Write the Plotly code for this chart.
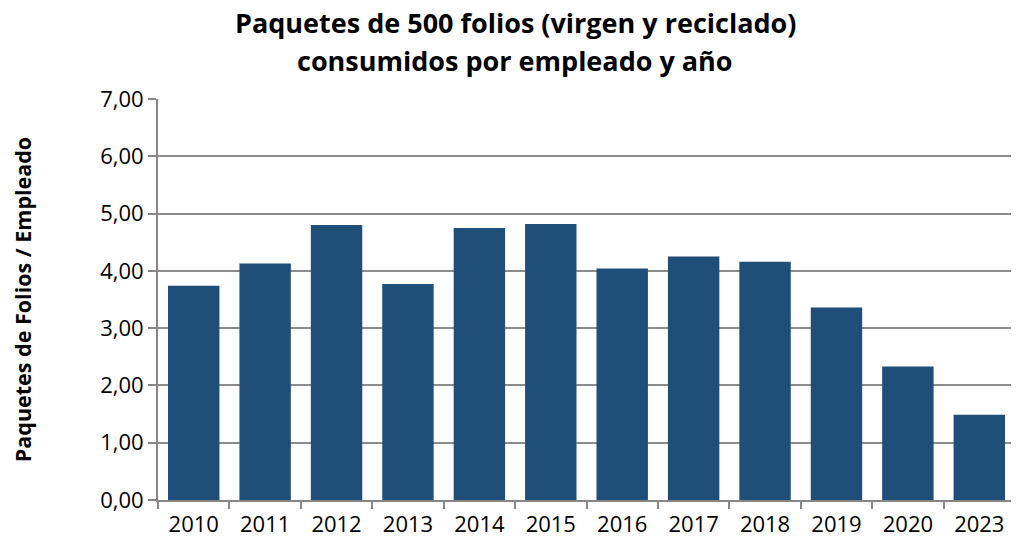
import plotly.graph_objects as go

years = ["2010", "2011", "2012", "2013", "2014", "2015", "2016", "2017", "2018", "2019", "2020", "2023"]
paquetes = [3.74, 4.13, 4.80, 3.77, 4.75, 4.82, 4.04, 4.25, 4.16, 3.36, 2.33, 1.49]
y_ticks = [0, 1, 2, 3, 4, 5, 6, 7]
title_lines = ["Paquetes de 500 folios (virgen y reciclado)", "consumidos por empleado y año"]

fig = go.Figure(go.Bar(x=years, y=paquetes, marker=dict(color="#1F4E79", line=dict(width=0))))

# page body has an 8px margin, so the figure is shifted by 8px right and down
fig.update_layout(
    width=1011, height=533,
    margin=dict(l=150, r=0, t=91, b=41),
    paper_bgcolor="white", plot_bgcolor="white",
    separators=",.",
    bargap=0.28,
    font=dict(family="Open Sans", color="black"),
    showlegend=False,
)
for line, ypos in zip(title_lines, [1.19, 1.095]):
    fig.add_annotation(text="<b>" + line + "</b>", xref="paper", yref="paper",
                       x=0.415, y=ypos, xanchor="center", yanchor="middle", showarrow=False,
                       font=dict(size=27, family="Open Sans", color="black"))
fig.update_xaxes(type="category", range=[-0.5, 11.556], tickson="boundaries",
                 ticks="outside", ticklen=7, tickcolor="#868686", tickwidth=2,
                 showline=True, linecolor="#868686", linewidth=2,
                 ticklabelstandoff=4,
                 showgrid=False, tickfont=dict(size=22, family="Open Sans"))
fig.update_yaxes(range=[0, 7], tickvals=y_ticks, tickformat=".2f",
                 ticks="outside", ticklen=8, tickcolor="#868686", tickwidth=2,
                 showline=True, linecolor="#868686", linewidth=2,
                 showgrid=True, gridcolor="#8c8c8c", gridwidth=2,
                 zeroline=False, tickfont=dict(size=22, family="Open Sans"),
                 title=dict(text="<b>Paquetes de Folios / Empleado</b>", standoff=64,
                            font=dict(size=21.5, family="Open Sans")))

fig.write_html("out.html")
